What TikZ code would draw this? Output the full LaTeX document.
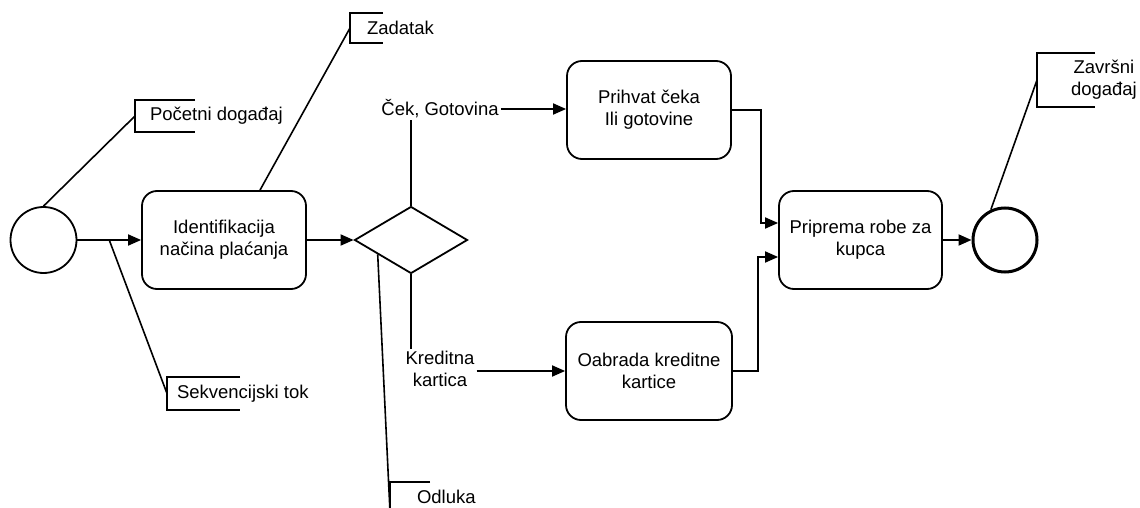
\documentclass[tikz,border=0pt]{standalone}
\usepackage{fontspec}
\setmainfont{Liberation Sans}
\usetikzlibrary{shapes.geometric,arrows.meta,calc}
\newcommand{\annbracket}[2]{\draw[annline] ($(#1.north west)+(#2,0)$) -- (#1.north west) -- (#1.south west) -- ++(#2,0);}
\begin{document}
\begin{tikzpicture}[x=1pt,y=-1pt,
  every node/.style={font=\fontsize{18.5}{22}\selectfont},
  ln/.style={line width=1.8pt},
  task/.style={draw,line width=1.8pt,rounded corners=15pt,align=center,minimum width=164pt,minimum height=98pt,inner sep=0pt},
  flow/.style={line width=1.8pt,-{Triangle[length=13pt,width=11pt]}},
  ann/.style={anchor=west,inner ysep=0pt,outer sep=0pt,align=center},
  annline/.style={line width=1.6pt}]
\useasboundingbox (0,0) rectangle (1140,508);

% main nodes
\node[draw,circle,line width=1.8pt,minimum size=66pt,inner sep=0pt] (start) at (43.5,240) {};
\node[task] (t1) at (224,240) {Identifikacija\\načina plaćanja};
\node[draw,diamond,line width=1.8pt,minimum width=113pt,minimum height=67pt,inner sep=0pt] (gw) at (411,240) {};
\node[inner sep=2pt] (ck) at (440,109) {Ček, Gotovina};
\node[task] (t2) at (649,110) {Prihvat čeka\\Ili gotovine};
\node[inner sep=2pt,align=center] (kk) at (440,369) {Kreditna\\kartica};
\node[task,minimum width=166pt] (t3) at (649,371) {Oabrada kreditne\\kartice};
\node[task,minimum width=163pt] (t4) at (860.5,240) {Priprema robe za\\kupca};
\node[draw,circle,line width=3pt,minimum size=64pt,inner sep=0pt] (end) at (1005,240) {};

% flows
\draw[flow] (start) -- (t1);
\draw[flow] (t1) -- (gw);
\draw[ln] (gw.north) -- (gw.north |- ck.south);
\draw[flow] (ck.east) -- (t2.west |- ck.east);
\draw[ln] (gw.south) -- (gw.south |- kk.north);
\draw[flow] (kk.east |- t3.west) -- (t3.west);
\draw[flow] (t2.east) -| ($(t4.west)+(-17,-17)$) -- ($(t4.west)+(0,-17)$);
\draw[flow] (t3.east) -| ($(t4.west)+(-20,17)$) -- ($(t4.west)+(0,17)$);
\draw[flow] (t4) -- (end);

% annotations
\node[ann,inner xsep=15pt,minimum height=32pt] (a1) at (135,116) {Početni događaj};
\annbracket{a1}{60}
\draw[annline] (start.north) -- (a1.west);

\node[ann,inner xsep=17pt,minimum height=30pt] (a2) at (350,28) {Zadatak};
\annbracket{a2}{33}
\draw[annline] ($(t1.north)+(36,0)$) -- (a2.west);

\node[ann,inner xsep=10pt,minimum height=33pt] (a3) at (167,393.5) {Sekvencijski tok};
\annbracket{a3}{73}
\draw[annline] ($(start.east)!0.5!(t1.west)$) -- (a3.west);

\node[ann,inner xsep=27pt,minimum height=30pt] (a4) at (390,497) {Odluka};
\draw[annline] ($(a4.north west)+(40,0)$) -- (a4.north west) -- (a4.south west);
\draw[annline] ($(gw.west)!0.42!(gw.south)$) -- (a4.south west);

\node[ann,inner xsep=34pt,minimum height=54pt] (a5) at (1037,80) {Završni\\događaj};
\annbracket{a5}{58}
\draw[annline] (end.115) -- (a5.west);
\end{tikzpicture}
\end{document}
